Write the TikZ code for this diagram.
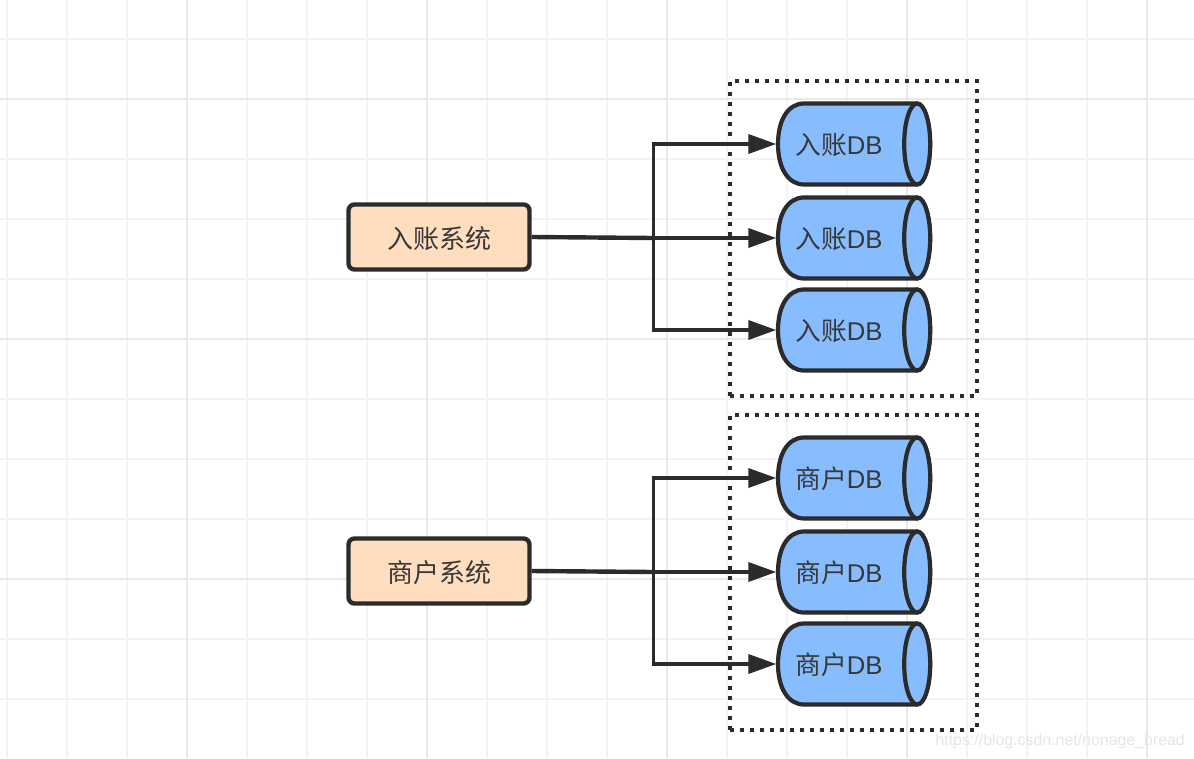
\documentclass[tikz,border=0pt]{standalone}
\usepackage{fontspec}
\setmainfont{Liberation Sans}
\newfontfamily\cjk{Noto Sans CJK SC}
\usetikzlibrary{arrows.meta}
\definecolor{ink}{HTML}{2B2B2B}
\definecolor{txt}{HTML}{383838}
\definecolor{dbblue}{HTML}{87BDFF}
\definecolor{peach}{HTML}{FFDEBF}
\definecolor{gridminor}{HTML}{F3F3F3}
\definecolor{gridmajor}{HTML}{E9E9E9}
\definecolor{wmark}{HTML}{E6E6E6}
\tikzset{
  x=1pt,y=-1pt,
  gridthin/.style={gridminor,line width=2.8pt},
  gridthick/.style={gridmajor,line width=2.8pt},
  sysbox/.style={draw=ink,fill=peach,line width=4.4pt,rounded corners=6pt,minimum width=181pt,minimum height=65pt,inner sep=0pt},
  systext/.style={inner sep=0pt,font=\fontsize{26}{26}\selectfont\cjk,text=txt},
  dbanchor/.style={minimum width=152pt,minimum height=81pt,inner sep=0pt},
  dbbody/.style={draw=ink,fill=dbblue,line width=4.2pt},
  dblabel/.style={inner sep=0pt,font=\fontsize{25.7}{26}\selectfont,text=txt},
  group/.style={draw=ink,line width=4pt,dash pattern=on 4pt off 6pt,minimum width=247pt,minimum height=315pt,inner sep=0pt},
  link/.style={draw=ink,line width=4.4pt},
  branch/.style={draw=ink,line width=3.6pt,-{Triangle[length=28pt,width=19pt]},shorten >=1.5pt},
}
% cylinder drawn around a named anchor node: #1 name, #2 y of the centre, #3 text
\newcommand{\dbcyl}[3]{%
  \node[dbanchor] (#1) at (854,#2) {};
  \path[dbbody,shift={(#1.center)}] (63,-40.5) -- (-50,-40.5)
     .. controls (-66,-40.5) and (-76,-24) .. (-76,0)
     .. controls (-76,24) and (-66,40.5) .. (-50,40.5)
     -- (63,40.5)
     .. controls (71,40.5) and (76,20) .. (76,0)
     .. controls (76,-20) and (71,-40.5) .. (63,-40.5) -- cycle;
  \path[dbbody] (#1.east) ++(-13,0) ellipse [x radius=13,y radius=40.5];
  \node[dblabel] (#1t) at (839,#2+1) {#3};
}
\begin{document}
\begin{tikzpicture}
\useasboundingbox (0,0) rectangle (1194,758);
\fill[white] (0,0) rectangle (1194,758);
% background grid
\foreach \gx in {7,67,127,247,307,367,487,547,607,727,787,847,967,1027,1087}
  \draw[gridthin] (\gx,0) -- (\gx,758);
\foreach \gy in {39,159,219,279,399,459,519,639,699}
  \draw[gridthin] (0,\gy) -- (1194,\gy);
\foreach \gx in {187,427,667,907,1147}
  \draw[gridthick] (\gx,0) -- (\gx,758);
\foreach \gy in {99,339,579}
  \draw[gridthick] (0,\gy) -- (1194,\gy);

% dotted groups
\node[group] (groupA) at (853.5,238.5) {};
\node[group] (groupB) at (853.5,572.5) {};

% systems
\node[sysbox,systext] (sysA) at (439,237) {\raisebox{-11pt}[0pt][0pt]{入账系统}};
\node[sysbox,systext] (sysB) at (439,571) {\raisebox{-11pt}[0pt][0pt]{商户系统}};

% databases
\dbcyl{a1}{144}{{\cjk 入账}DB}
\dbcyl{a2}{238}{{\cjk 入账}DB}
\dbcyl{a3}{330}{{\cjk 入账}DB}
\dbcyl{b1}{478}{{\cjk 商户}DB}
\dbcyl{b2}{572}{{\cjk 商户}DB}
\dbcyl{b3}{664}{{\cjk 商户}DB}

% connectors
\coordinate (forkA) at (653.6,238);
\coordinate (forkB) at (653.6,572);
\draw[link] (sysA.east) -- (forkA);
\draw[link] (sysB.east) -- (forkB);
\draw[branch] (forkA) -- (a2.west);
\draw[branch] (forkB) -- (b2.west);
\draw[branch] (forkA) |- (a1.west);
\draw[branch] (forkA) |- (a3.west);
\draw[branch] (forkB) |- (b1.west);
\draw[branch] (forkB) |- (b3.west);

% credit line
\node[text=wmark,font=\fontsize{15.9}{18}\selectfont,inner sep=0pt,anchor=east] (credit) at (1185,741) {https://blog.csdn.net/nonage\_bread};
\end{tikzpicture}
\end{document}
